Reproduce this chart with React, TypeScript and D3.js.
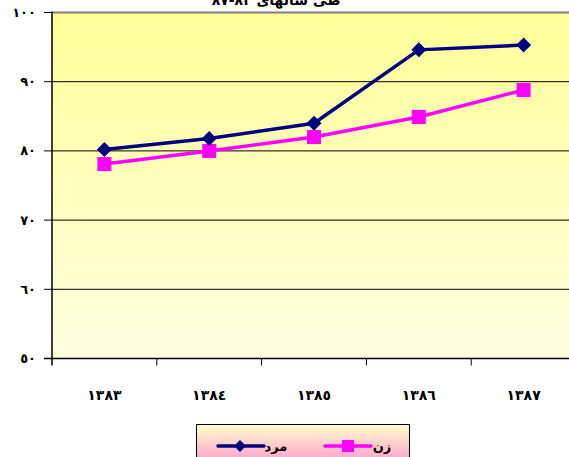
import React from "react";
import * as d3 from "d3";

const years = ["١٣٨٣", "١٣٨٤", "١٣٨٥", "١٣٨٦", "١٣٨٧"];
const menValues = [80.2, 81.8, 84.0, 94.6, 95.3];
const womenValues = [78.1, 80.0, 82.0, 84.9, 88.8];
const yTicks = [50, 60, 70, 80, 90, 100];
const yTickLabels = ["٥٠", "٦٠", "٧٠", "٨٠", "٩٠", "١٠٠"];
const seriesNames = ["مرد", "زن"];
const title = "طی سالهای ٨٣-٨٧";

const W = 569;
const H = 457;
const left = 52;
const right = 576;
const top = 12.5;
const bottom = 358.5;
const font = "'DejaVu Sans', sans-serif";

export default function App() {
  const x = d3.scaleBand<string>().domain(years).range([left, right]).padding(0);
  const y = d3.scaleLinear().domain([50, 100]).range([bottom, top]);
  const cx = (i: number) => (x(years[i]) as number) + x.bandwidth() / 2;
  const line = d3
    .line<number>()
    .x((_, i) => cx(i))
    .y((d) => y(d));
  const diamond = (px: number, py: number, r: number) =>
    `M${px},${py - r}L${px + r},${py}L${px},${py + r}L${px - r},${py}Z`;

  return (
    <svg
      width={W}
      height={H}
      style={{ position: "absolute", left: 0, top: 0, background: "#fff" }}
    >
      <defs>
        <linearGradient id="plotBg" x1="0" y1="0" x2="0" y2="1">
          <stop offset="0%" stopColor="#FFFF99" />
          <stop offset="100%" stopColor="#FFFFE0" />
        </linearGradient>
        <linearGradient id="legBg" x1="0" y1="0" x2="0" y2="1">
          <stop offset="0%" stopColor="#FFFFCC" />
          <stop offset="100%" stopColor="#FF99CC" />
        </linearGradient>
      </defs>
      <text
        x={276}
        y={5}
        textAnchor="middle"
        fontFamily={font}
        fontWeight="bold"
        fontSize={14}
        fill="#000"
      >
        {title}
      </text>
      <rect x={left} y={top} width={right - left} height={bottom - top} fill="url(#plotBg)" />
      {yTicks.slice(1, -1).map((t) => (
        <line key={t} x1={left} x2={right} y1={y(t)} y2={y(t)} stroke="#000" strokeWidth={1} />
      ))}
      <line x1={left} x2={right} y1={top} y2={top} stroke="#808080" strokeWidth={2} />
      {yTicks.map((t, i) => (
        <g key={"yt" + t}>
          <line x1={44} x2={left} y1={y(t)} y2={y(t)} stroke="#000" strokeWidth={1} />
          <text
            x={36}
            y={y(t)}
            dy="0.35em"
            textAnchor="end"
            fontFamily={font}
            fontWeight="bold"
            fontSize={13}
            fill="#000"
          >
            {yTickLabels[i]}
          </text>
        </g>
      ))}
      <line x1={left} x2={left} y1={top - 1} y2={bottom + 7} stroke="#000" strokeWidth={1.5} />
      <line x1={44} x2={right} y1={bottom} y2={bottom} stroke="#000" strokeWidth={1.5} />
      {years.map((yr, i) => (
        <g key={yr}>
          {i > 0 && (
            <line
              x1={x(yr) as number}
              x2={x(yr) as number}
              y1={bottom}
              y2={bottom + 7}
              stroke="#000"
              strokeWidth={1}
            />
          )}
          <text
            x={cx(i)}
            y={400}
            textAnchor="middle"
            fontFamily={font}
            fontWeight="bold"
            fontSize={14}
            fill="#000"
          >
            {yr}
          </text>
        </g>
      ))}
      <path d={line(womenValues) as string} fill="none" stroke="#FF00FF" strokeWidth={3.5} />
      <path d={line(menValues) as string} fill="none" stroke="#000080" strokeWidth={3.5} />
      {womenValues.map((v, i) => (
        <rect key={"w" + i} x={cx(i) - 7} y={y(v) - 7} width={14} height={14} fill="#FF00FF" />
      ))}
      {menValues.map((v, i) => (
        <path key={"m" + i} d={diamond(cx(i), y(v), 7.5)} fill="#000080" />
      ))}
      <rect x={196.5} y={424.5} width={213} height={40} fill="url(#legBg)" stroke="#000" strokeWidth={1} />
      <line x1={218} x2={264} y1={446} y2={446} stroke="#000080" strokeWidth={3.5} strokeLinecap="round" />
      <path d={diamond(240, 446, 6)} fill="#000080" />
      <text x={276} y={446} dy="0.35em" textAnchor="middle" fontFamily={font} fontWeight="bold" fontSize={13} fill="#000">
        {seriesNames[0]}
      </text>
      <line x1={325} x2={371} y1={446} y2={446} stroke="#FF00FF" strokeWidth={3.5} strokeLinecap="round" />
      <rect x={342} y={440} width={12} height={12} fill="#FF00FF" />
      <text x={382} y={446} dy="0.35em" textAnchor="middle" fontFamily={font} fontWeight="bold" fontSize={13} fill="#000">
        {seriesNames[1]}
      </text>
    </svg>
  );
}
